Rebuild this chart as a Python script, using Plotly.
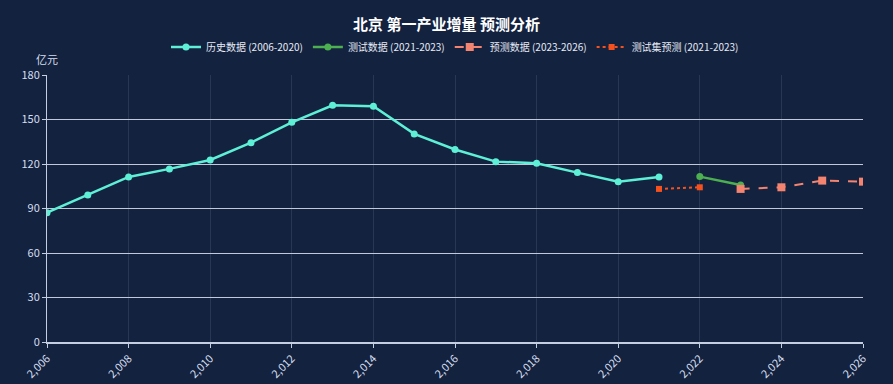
import plotly.graph_objects as go

hist_years = [2006, 2007, 2008, 2009, 2010, 2011, 2012, 2013, 2014, 2015, 2016, 2017, 2018, 2019, 2020, 2021]
hist_vals = [87.2, 99.1, 111.3, 116.7, 122.7, 134.4, 148.1, 159.6, 158.9, 140.3, 129.8, 121.6, 120.5, 114.2, 108.1, 111.3]

test_years = [2022, 2023]
test_vals = [111.5, 105.9]

pred_years = [2023, 2024, 2025, 2026]
pred_vals = [103.2, 104.3, 108.8, 108.1]

testpred_years = [2021, 2022]
testpred_vals = [103.2, 104.3]

BG = "#13223f"
FONT = "Noto Sans CJK SC, Noto Sans, sans-serif"

fig = go.Figure()
fig.add_trace(go.Scatter(x=hist_years, y=hist_vals, mode="lines+markers",
                         name="历史数据 (2006-2020)",
                         line=dict(color="#5ef0d6", width=2.5),
                         marker=dict(size=7, color="#5ef0d6")))
fig.add_trace(go.Scatter(x=test_years, y=test_vals, mode="lines+markers",
                         name="测试数据 (2021-2023)",
                         line=dict(color="#4caf50", width=2.5),
                         marker=dict(size=7, color="#4caf50")))
fig.add_trace(go.Scatter(x=pred_years, y=pred_vals, mode="lines+markers",
                         name="预测数据 (2023-2026)",
                         line=dict(color="#f4836f", width=2, dash="dash"),
                         marker=dict(size=8, symbol="square", color="#f4836f")))
fig.add_trace(go.Scatter(x=testpred_years, y=testpred_vals, mode="lines+markers",
                         name="测试集预测 (2021-2023)",
                         line=dict(color="#f4511e", width=2, dash="dot"),
                         marker=dict(size=6, symbol="square", color="#f4511e")))

fig.update_layout(
    width=893, height=384,
    paper_bgcolor=BG, plot_bgcolor=BG,
    margin=dict(l=47, r=30, t=75, b=42, autoexpand=False),
    font=dict(family=FONT, color="#dfe6f3", size=11),
    title=dict(text="<b>北京 第一产业增量 预测分析</b>", x=0.5, xanchor="center",
               y=0.935, yanchor="middle", font=dict(size=15, color="#ffffff")),
    legend=dict(orientation="h", x=0.5, xanchor="center", y=1.105, yanchor="middle",
                font=dict(size=10, color="#e6ebf5"), bgcolor="rgba(0,0,0,0)",
                itemwidth=30),
    showlegend=True,
)
fig.update_xaxes(range=[2006, 2026], tickmode="linear", tick0=2006, dtick=2,
                 tickformat=",", tickangle=-45, automargin=False,
                 showgrid=True, gridcolor="rgba(200,210,230,0.12)", gridwidth=1,
                 showline=True, linecolor="#c5cde0", linewidth=1.5,
                 ticks="outside", ticklen=4, tickcolor="#c5cde0",
                 tickfont=dict(size=11, color="#d5deee"), zeroline=False)
fig.update_yaxes(range=[0, 180], tickmode="linear", tick0=0, dtick=30,
                 automargin=False,
                 showgrid=True, gridcolor="#c2c8da", gridwidth=1,
                 showline=True, linecolor="#c5cde0", linewidth=1,
                 ticks="outside", ticklen=4, tickcolor="#c5cde0",
                 tickfont=dict(size=11, color="#d5deee"), zeroline=False)
fig.add_annotation(text="亿元", xref="paper", yref="paper", x=0, y=1.0,
                   xanchor="center", yanchor="bottom", yshift=6, showarrow=False,
                   font=dict(size=11, color="#d5deee"))

fig.write_html("out.html",
               config={"displayModeBar": False},
               post_script="document.body.style.margin='0';"
                           "document.body.style.background='" + BG + "';"
                           "document.body.style.overflow='hidden';")
